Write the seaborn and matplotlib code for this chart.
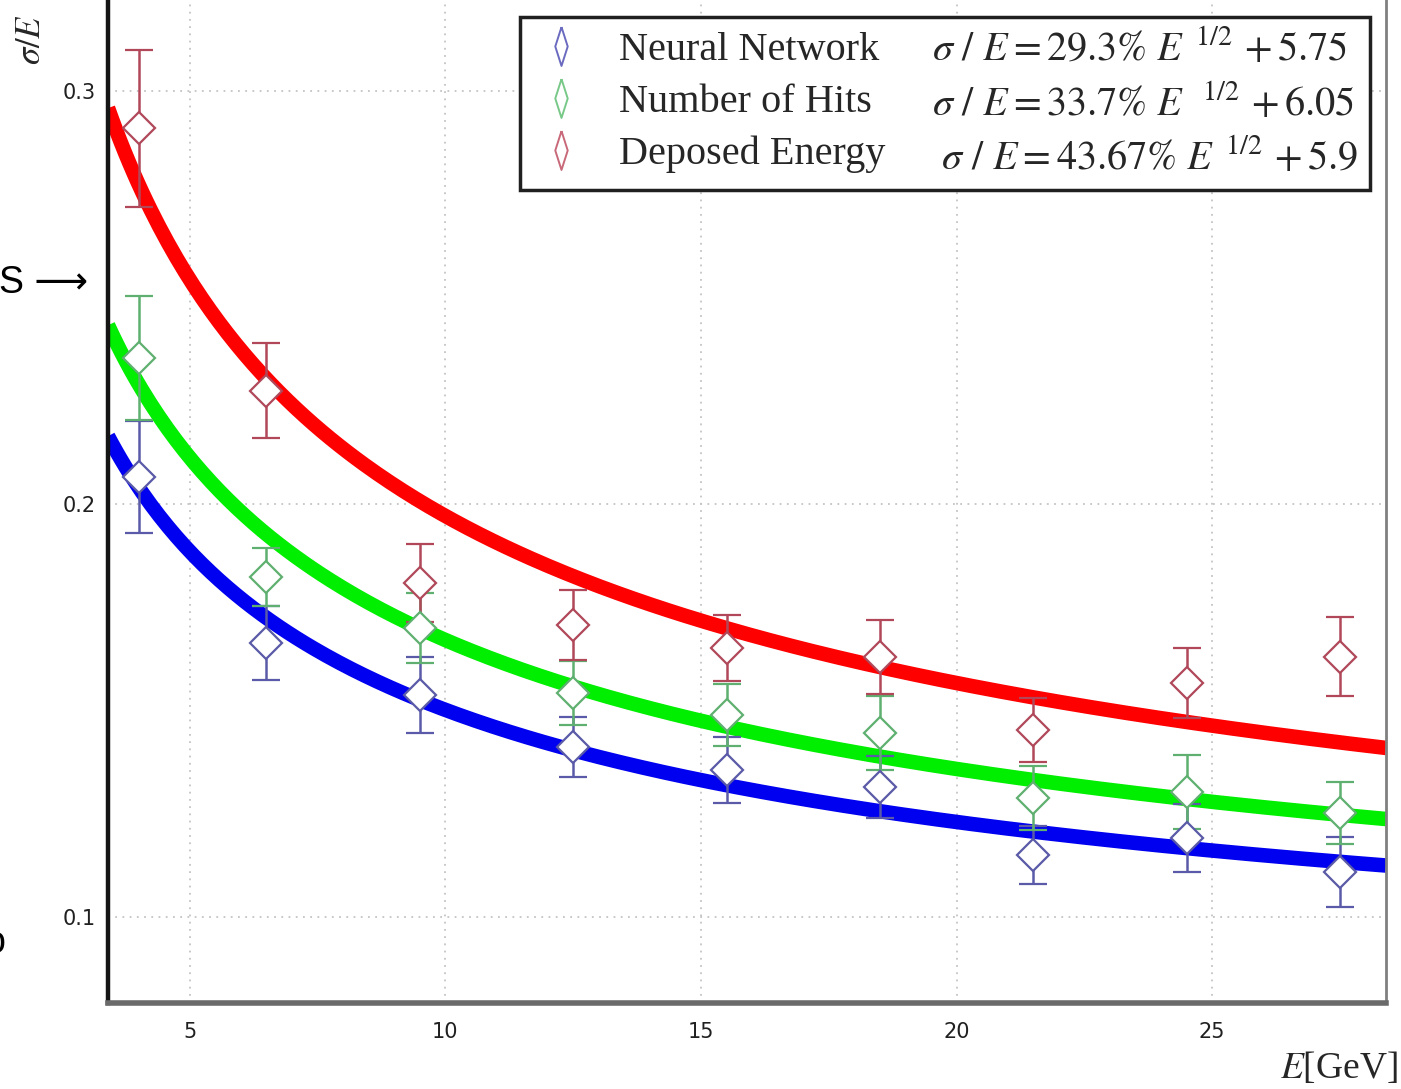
import numpy as np
import pandas as pd
import matplotlib
matplotlib.use("Agg")
import matplotlib.pyplot as plt
from matplotlib.lines import Line2D
import seaborn as sns

# ---------------- data ----------------
energy = [4.0, 6.5, 9.5, 12.5, 15.5, 18.5, 21.5, 24.5, 27.5]

nn_res = [0.2065, 0.1663, 0.1538, 0.1412, 0.1356, 0.1315, 0.1150, 0.1191, 0.1109]
nn_err = [0.0135, 0.0090, 0.0092, 0.0073, 0.0080, 0.0075, 0.0070, 0.0082, 0.0085]

hits_res = [0.2354, 0.1823, 0.1700, 0.1542, 0.1489, 0.1445, 0.1288, 0.1303, 0.1252]
hits_err = [0.0150, 0.0070, 0.0085, 0.0077, 0.0075, 0.0090, 0.0078, 0.0090, 0.0075]

dep_res = [0.2910, 0.2274, 0.1809, 0.1707, 0.1651, 0.1630, 0.1453, 0.1567, 0.1630]
dep_err = [0.0190, 0.0115, 0.0095, 0.0085, 0.0080, 0.0090, 0.0078, 0.0085, 0.0096]

series_names = ["Neural Network", "Number of Hits", "Deposed Energy"]
fit_stoch = [0.293, 0.337, 0.4367]   # a  in  a / sqrt(E) + b
fit_const = [0.0575, 0.0605, 0.059]  # b
fit_labels = [r"$\sigma\ /\ E = 29.3\%\ E^{\ \,1/2}\, + 5.75$",
              r"$\sigma\ /\ E = 33.7\%\ E^{\ \ \,1/2}\, + 6.05$",
              r"$\ \sigma\ /\ E = 43.67\%\ E^{\ \,1/2}\, + 5.9$"]

x_ticks = [5, 10, 15, 20, 25]
y_ticks = [0.1, 0.2, 0.3]
y_ticklabels = ["0.1", "0.2", "0.3"]

# ---------------- style ----------------
sns.set_theme(style="white")
plt.rcParams["font.family"] = ["DejaVu Sans"]
plt.rcParams["mathtext.fontset"] = "stix"

line_colors = ["#0000f0", "#00ee00", "#ff0000"]
marker_colors = ["#5a5aa8", "#5fb070", "#b0485a"]
legend_marker_colors = ["#6a6ac0", "#78c888", "#c86878"]

fig = plt.figure(figsize=(14.01, 10.89), dpi=100)
ax = fig.add_axes([108 / 1401, 1 - 1003 / 1089, 1278 / 1401, 1003 / 1089])
ax.set_xlim(3.4, 28.4)
ax.set_ylim(0.0792, 0.322)

# fit curves
e_grid = np.linspace(3.4, 28.4, 300)
rows = []
for name, a, b in zip(series_names, fit_stoch, fit_const):
    for e in e_grid:
        rows.append({"E": e, "res": a / np.sqrt(e) + b, "series": name})
curves = pd.DataFrame(rows)
sns.lineplot(data=curves, x="E", y="res", hue="series", hue_order=series_names,
             palette=line_colors, linewidth=10.5, legend=False, ax=ax,
             solid_capstyle="butt", zorder=2)

# data points with error bars
for ys, es, mc in zip([nn_res, hits_res, dep_res], [nn_err, hits_err, dep_err], marker_colors):
    ax.errorbar(energy, ys, yerr=es, fmt="D", ms=16, mfc="white", mec=mc, mew=1.6,
                ecolor=mc, elinewidth=1.8, capsize=10, capthick=2.2, zorder=3)

# grid, spines, ticks
ax.grid(True, linestyle=(0, (1, 3)), color="#c4c4c4", linewidth=1.3)
ax.set_xticks(x_ticks)
ax.set_yticks(y_ticks)
ax.set_yticklabels(y_ticklabels)
ax.tick_params(axis="both", direction="in", length=9, width=1.5, color="#707070",
               labelsize=15, labelcolor="#202020")
ax.tick_params(axis="x", pad=14)
ax.tick_params(axis="y", pad=9)
ax.spines["top"].set_visible(False)
ax.spines["left"].set_color("#151515")
ax.spines["left"].set_linewidth(3.2)
ax.spines["bottom"].set_color("#6a6a6a")
ax.spines["bottom"].set_linewidth(4)
ax.spines["right"].set_color("#808080")
ax.spines["right"].set_linewidth(2)
ax.set_xlabel("")
ax.set_ylabel("")

# legend (two columns: names, fit formulas)
thin_diamond = [(0, 0.5), (0.16, 0), (0, -0.5), (-0.16, 0), (0, 0.5)]
handles = [Line2D([], [], linestyle="none", marker=thin_diamond, ms=28, mfc="white",
                  mec=c, mew=1.4) for c in legend_marker_colors]
handles += [Line2D([], [], linestyle="none") for _ in fit_labels]
labels = series_names + fit_labels
leg = ax.legend(handles, labels, ncol=2, loc="upper right",
                bbox_to_anchor=(0.9875, 0.983), borderaxespad=0,
                prop={"family": "Liberation Serif", "size": 29},
                frameon=True, fancybox=False, edgecolor="#202020",
                handlelength=1.4, handletextpad=0.75, columnspacing=-1.0,
                labelspacing=0.36, borderpad=0.3)
leg.get_frame().set_linewidth(2.5)
leg.get_frame().set_alpha(1)

# axis titles and stray marginal texts
fig.text(1398 / 1401, 3 / 1089, r"$E$[GeV]", ha="right", va="bottom",
         fontsize=27, family="Liberation Serif")
fig.text(32 / 1401, 1 - 40 / 1089, r"$\sigma/E$", rotation=90, ha="center",
         va="center", fontsize=25, family="Liberation Serif")
fig.text(88 / 1401, 1 - 283 / 1089, "S \u27f6", ha="right", va="center",
         fontsize=27, family=["Liberation Sans", "DejaVu Sans"], color="black")
fig.text(5 / 1401, 1 - 943 / 1089, "o", ha="right", va="center",
         fontsize=27, family="Liberation Sans", color="black")

fig.savefig("out.png", dpi=100)
